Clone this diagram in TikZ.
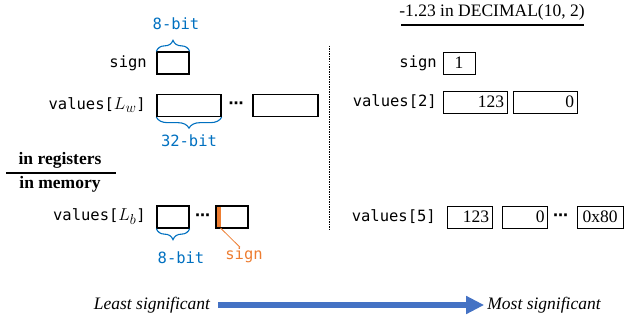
\documentclass[tikz,border=0pt]{standalone}
\usepackage{fontspec}
\setmainfont{Liberation Serif}
\setmonofont{DejaVu Sans Mono}
\newfontfamily\dotsfont{DejaVu Sans}
\usetikzlibrary{decorations.pathreplacing,arrows.meta}
\definecolor{bitblue}{HTML}{0070C0}
\definecolor{arrowblue}{HTML}{4472C4}
\definecolor{signorange}{HTML}{ED7D31}
\newcommand{\idx}[1]{{\fontsize{19}{20}\selectfont$#1$}}

\begin{document}
\begin{tikzpicture}[x=1pt,y=-1pt,
  code/.style={font=\fontsize{15.5}{18}\selectfont\ttfamily, inner sep=0pt},
  serif/.style={font=\fontsize{17.5}{20}\selectfont, inner sep=0pt},
  regbox/.style={draw, line width=1.3pt, minimum height=22pt, inner sep=0pt},
  valbox/.style={draw, line width=0.9pt, minimum height=22pt, inner xsep=3pt, inner ysep=0pt,
                 font=\fontsize{17.5}{20}\selectfont, align=right},
  bitlabel/.style={code, text=bitblue},
  bitbrace/.style={draw=bitblue, line width=1.1pt, decorate, decoration={brace, amplitude=11pt}},
  dotsnode/.style={inner sep=0pt, font=\fontsize{15}{18}\selectfont\dotsfont\bfseries}
]
\useasboundingbox (0,0) rectangle (634,321);

% ---- left half: register layout ----
\node[bitlabel] (b8top) at (176,24) {8-bit};
\node[code, anchor=east] (lsign) at (147,63) {sign};
\node[regbox, minimum width=32pt] (lsignbox) at (173,63) {};
\draw[bitbrace] (lsignbox.north west) -- (lsignbox.north east);

\node[code, anchor=east] (lvw) at (146,105) {values[\idx{L_w}]};
\node[regbox, minimum width=64pt] (lw1) at (189,105.5) {};
\node[dotsnode] (ldw) at (236,105) {⋯};
\node[regbox, minimum width=65pt] (lw2) at (285.5,105.5) {};
\draw[bitbrace] (lw1.south east) -- (lw1.south west);
\node[bitlabel] (b32) at (189,141) {32-bit};

% registers / memory divider
\node[serif, font=\fontsize{17.5}{20}\selectfont\bfseries] (inreg) at (60,160) {in registers};
\draw[line width=1.1pt] (6,173) -- (116,173);
\node[serif, font=\fontsize{17.5}{20}\selectfont\bfseries] (inmem) at (60,184) {in memory};

% ---- left half: memory layout ----
\node[code, anchor=east] (lvb) at (146,217) {values[\idx{L_b}]};
\node[regbox, minimum width=32pt] (lb1) at (173,217) {};
\node[dotsnode] (ldb) at (202.5,217) {⋯};
\fill[signorange] (215.5,206) rectangle (221,228);
\node[regbox, minimum width=32pt] (lb2) at (232,217) {};
\draw[bitbrace] (lb1.south east) -- (lb1.south west);
\node[bitlabel] (b8bot) at (181,258) {8-bit};
\node[code, text=signorange] (signlbl) at (244,255) {sign};
\draw[signorange, line width=0.8pt] (220.5,228) -- ([xshift=-4pt]signlbl.north);

% divider between the two halves
\draw[line width=0.6pt, dash pattern=on 1.5pt off 1pt] (329,46) -- (329,230);

% ---- right half: example value ----
\node[serif] (title) at (492,12) {-1.23 in DECIMAL(10, 2)};
\draw[line width=1.1pt] (401,25) -- (584,25);

\node[code, anchor=east] (rsign) at (437,63) {sign};
\node[valbox, minimum width=32pt, align=center] (rsignbox) at (459,63) {1};

\node[code, anchor=east] (rv2) at (437,102) {values[2]};
\node[valbox, minimum width=64pt, text width=58pt] (r2a) at (475,102) {123};
\node[valbox, minimum width=64pt, text width=58pt] (r2b) at (545,102) {0};

\node[code, anchor=east] (rv5) at (436,217) {values[5]};
\node[valbox, minimum width=45pt, text width=39pt] (r5a) at (469.5,217) {123};
\node[valbox, minimum width=45pt, text width=39pt] (r5b) at (525,217) {0};
\node[dotsnode] (rd5) at (560.5,217) {⋯};
\node[valbox, minimum width=46pt, inner xsep=2pt, align=center] (r5c) at (600,217) {0x80};

% ---- significance arrow ----
\node[serif, font=\fontsize{17.5}{20}\selectfont\itshape] (least) at (152,305) {Least significant};
\node[serif, font=\fontsize{17.5}{20}\selectfont\itshape] (most) at (544,305) {Most significant};
\draw[arrowblue, line width=6pt, -{Triangle[length=18pt,width=17pt]},
      shorten <=8pt, shorten >=3pt] (least) -- (most);
\end{tikzpicture}
\end{document}
